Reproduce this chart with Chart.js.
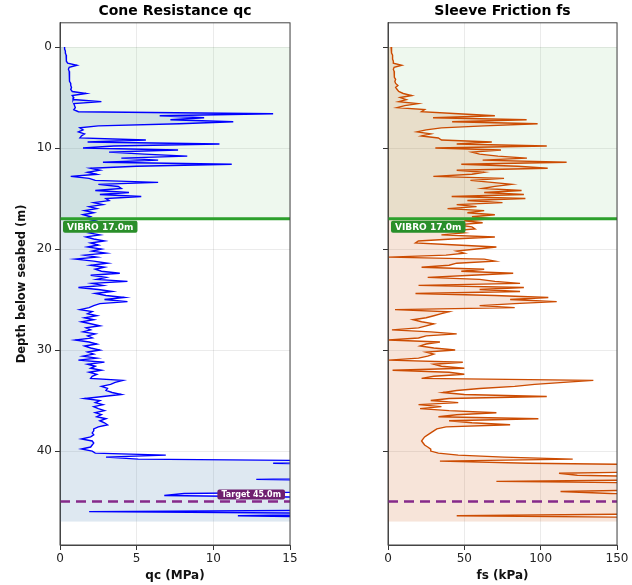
<!DOCTYPE html>
<html>
<head>
<meta charset="utf-8">
<script src="https://cdn.jsdelivr.net/npm/chart.js@4.4.1/dist/chart.umd.min.js"></script>
<style>
  body { margin: 0; background: #fff; }
  #wrap { position: relative; width: 632px; height: 585px; }
  #qcChart { position: absolute; left: 0; top: 0; }
  #fsChart { position: absolute; left: 320px; top: 0; }
</style>
</head>
<body>
<div id="wrap">
  <canvas id="qcChart" width="300" height="585"></canvas>
  <canvas id="fsChart" width="312" height="585"></canvas>
</div>
<script>
// CPT log sampled every 0.2 m from 0.0 to 47.0 m
const depthStep = 0.2;

// cone resistance qc (MPa)
const qcValues = [
  0.3, 0.3, 0.35, 0.35, 0.4, 0.4, 0.4, 0.45, 0.5, 1.1,
  0.6, 0.55, 0.6, 0.6, 0.6, 0.65, 0.6, 0.65, 0.7, 0.7,
  0.75, 0.7, 0.8, 1.7, 0.8, 0.9, 0.85, 2.7, 0.9, 0.95,
  1.0, 0.9, 1.2, 13.9, 6.5, 9.4, 7.2, 11.3, 7.8, 2.5,
  1.3, 1.5, 1.2, 1.6, 1.4, 1.3, 5.6, 1.8, 10.4, 3.5,
  1.5, 7.7, 3.2, 5.5, 8.3, 4.0, 6.4, 2.8, 11.2, 5.0,
  2.0, 2.6, 1.8, 2.4, 0.7, 1.9, 2.3, 6.4, 2.5, 3.8,
  4.0, 2.3, 4.5, 2.6, 5.3, 3.0, 3.2, 2.2, 2.8, 1.9,
  2.4, 1.6, 2.2, 1.5, 2.0, 1.7, 2.3, 1.8, 2.1, 2.6,
  1.8, 2.4, 1.9, 2.6, 1.7, 2.2, 2.9, 2.0, 2.5, 1.8,
  2.7, 2.1, 3.0, 1.6, 2.4, 1.0, 2.2, 3.1, 2.0, 2.9,
  2.3, 2.7, 3.9, 2.0, 3.0, 2.4, 4.4, 2.1, 2.8, 1.2,
  2.5, 3.4, 2.3, 3.0, 4.2, 2.9, 4.4, 2.6, 2.2, 1.9,
  1.3, 2.1, 1.8, 2.4, 1.6, 2.2, 1.4, 2.0, 2.6, 1.7,
  2.0, 1.5, 2.3, 1.8, 2.1, 1.0, 1.9, 2.4, 1.6, 2.0,
  2.6, 1.8, 2.2, 1.5, 2.4, 1.2, 2.9, 1.8, 2.3, 2.0,
  2.7, 1.9, 2.4, 2.1, 2.0, 4.1, 3.6, 3.3, 2.7, 3.1,
  3.0, 3.4, 4.0, 2.8, 1.6, 2.6, 2.3, 2.8, 2.2, 2.5,
  2.9, 2.3, 2.7, 2.4, 3.0, 2.6, 2.9, 3.1, 2.5, 2.2,
  2.2, 2.1, 2.2, 2.0, 1.4, 2.1, 2.2, 2.1, 2.0, 1.4,
  2.1, 2.3, 6.9, 3.0, 5.1, 22, 13.9, 22, 24, 21,
  23, 20, 22, 25, 12.8, 21, 24, 22, 23, 20,
  21, 8.1, 6.8, 18, 22, 23, 20, 24, 21, 25,
  1.9, 22, 11.6, 21, 23, 22
];

// sleeve friction fs (kPa)
const fsValues = [
  2, 2, 2.5, 2.5, 3, 3, 3, 3.5, 3.5, 9,
  4, 3.5, 4, 4.5, 4, 4, 5, 4.5, 5, 6.5,
  5, 6, 7, 10, 15.5, 8, 12, 7, 19.6, 11,
  6, 24, 22, 46, 70, 29.5, 90.8, 42, 98, 63,
  35, 25, 19, 28, 22, 33, 35, 68, 45, 104,
  31, 74, 55, 60, 72, 91, 62, 117, 48, 85,
  104.6, 45, 63, 55, 29.7, 76, 54, 68, 81, 70,
  62, 87.5, 63, 89, 41.7, 90, 52, 75, 45, 58,
  39, 63, 52, 70, 55, 68, 50, 62, 45, 55,
  57, 41.6, 50, 35, 70, 42, 19.9, 18, 45, 71,
  58, 45, 50, 38, 0.5, 63, 70, 45, 40, 22,
  63, 48, 82, 55, 26, 60, 70, 86.5, 20, 89,
  60, 86.5, 18, 70, 105, 80, 110.5, 83, 60, 83,
  4.6, 40, 35, 30, 25, 16.4, 22, 30, 25, 20,
  2.6, 28, 45, 25, 20, 0.4, 34, 25, 21, 30,
  44, 25, 30, 26, 20, 0.4, 49, 30, 35, 50,
  3, 40, 50, 30, 22, 134.5, 115, 96, 83, 60,
  45, 36, 50, 104, 40, 28, 46, 20, 35, 21,
  40, 71, 45, 33, 98.5, 40, 55, 80, 38, 32,
  30, 28, 26, 24, 23, 22, 23, 24, 26, 28,
  28, 33, 46, 76, 121, 34, 92, 200, 210, 190,
  200, 112, 124, 200, 205, 71, 195, 210, 200, 190,
  113, 146, 200, 205, 210, 195, 200, 210, 205, 200,
  200, 195, 45, 200, 210, 205
];

const depth = qcValues.map((v, i) => Math.round(i * depthStep * 10) / 10);

const depthTicks = [0, 10, 20, 30, 40];
const qcTicks = [0, 5, 10, 15];
const fsTicks = [0, 50, 100, 150];

const vibroDepth = 17.0;
const targetDepth = 45.0;

Chart.defaults.font.family = "'DejaVu Sans', sans-serif";
Chart.defaults.color = '#222';

function tag(ctx, text, x, y, h, bg, font, alignRight) {
  ctx.font = font;
  const w = ctx.measureText(text).width + 8;
  const left = alignRight ? x - w : x;
  ctx.fillStyle = bg;
  ctx.beginPath();
  if (ctx.roundRect) ctx.roundRect(left, y, w, h, 2);
  else ctx.rect(left, y, w, h);
  ctx.fill();
  ctx.fillStyle = '#fff';
  ctx.textAlign = 'left';
  ctx.textBaseline = 'middle';
  ctx.fillText(text, left + 4, y + h / 2 + 0.5);
}

// densification zone, vibro line, target line and frame
const markers = {
  id: 'markers',
  beforeDatasetsDraw(chart) {
    const { ctx, chartArea: a, scales: { y } } = chart;
    const y0 = y.getPixelForValue(0);
    const y1 = y.getPixelForValue(vibroDepth);
    ctx.save();
    ctx.fillStyle = 'rgba(44,160,44,0.08)';
    ctx.fillRect(a.left, y0, a.right - a.left, y1 - y0);
    ctx.restore();
  },
  afterDatasetsDraw(chart, args, opts) {
    const { ctx, chartArea: a, scales: { y } } = chart;
    ctx.save();
    const yv = y.getPixelForValue(vibroDepth);
    ctx.strokeStyle = '#2ca02c';
    ctx.lineWidth = 3;
    ctx.beginPath();
    ctx.moveTo(a.left, yv);
    ctx.lineTo(a.right, yv);
    ctx.stroke();
    tag(ctx, 'VIBRO ' + vibroDepth.toFixed(1) + 'm', a.left + 3, yv + 2, 12,
        '#2a8f2a', 'bold 9px "DejaVu Sans"', false);

    const yt = y.getPixelForValue(targetDepth);
    ctx.strokeStyle = '#862a8a';
    ctx.lineWidth = 2.5;
    ctx.setLineDash([10, 6]);
    ctx.beginPath();
    ctx.moveTo(a.left, yt);
    ctx.lineTo(a.right, yt);
    ctx.stroke();
    ctx.setLineDash([]);
    if (opts.showTarget) {
      tag(ctx, 'Target ' + targetDepth.toFixed(1) + 'm', a.right - 5, yt - 12, 10,
          '#6f1f6f', 'bold 8px "DejaVu Sans"', true);
    }

    ctx.strokeStyle = '#444';
    ctx.lineWidth = 1;
    ctx.strokeRect(a.left, a.top, a.right - a.left, a.bottom - a.top);
    ctx.restore();
  }
};

function makeChart(id, values, color, fillColor, xMax, xTicks, title, xTitle, yOpts, padRight, showTarget) {
  return new Chart(document.getElementById(id), {
    type: 'line',
    data: {
      datasets: [{
        data: values.map((v, i) => ({ x: v, y: depth[i] })),
        borderColor: color,
        borderWidth: 1.4,
        backgroundColor: fillColor,
        fill: 'origin',
        pointRadius: 0,
        tension: 0
      }]
    },
    options: {
      responsive: false,
      animation: false,
      indexAxis: 'y',
      layout: { padding: { right: padRight } },
      plugins: {
        legend: { display: false },
        tooltip: { enabled: false },
        title: {
          display: true,
          text: title,
          fullSize: false,
          color: '#000',
          font: { size: 14, weight: 'bold' },
          padding: { top: 3, bottom: 3 }
        },
        markers: { showTarget: showTarget }
      },
      scales: {
        x: {
          type: 'linear',
          min: 0,
          max: xMax,
          afterBuildTicks: s => { s.ticks = xTicks.map(v => ({ value: v })); },
          afterFit: s => { s.height = 40; },
          ticks: { font: { size: 12 }, padding: 2, color: '#222' },
          grid: { color: 'rgba(0,0,0,0.08)', tickColor: '#333', tickLength: 5 },
          border: { color: '#444' },
          title: {
            display: true,
            text: xTitle,
            color: '#111',
            font: { size: 12, weight: 'bold' },
            padding: { top: 0, bottom: 2 }
          }
        },
        y: Object.assign({
          type: 'linear',
          reverse: true,
          min: -2.4,
          max: 49.3,
          afterBuildTicks: s => { s.ticks = depthTicks.map(v => ({ value: v })); },
          grid: { color: 'rgba(0,0,0,0.08)', tickColor: '#333', tickLength: 5 },
          border: { color: '#444' }
        }, yOpts)
      }
    },
    plugins: [markers]
  });
}

makeChart('qcChart', qcValues, '#0000ff', 'rgba(70,130,180,0.18)', 15, qcTicks,
  'Cone Resistance qc', 'qc (MPa)', {
    afterFit: s => { s.width = 60; },
    ticks: { font: { size: 12 }, padding: 3, color: '#222' },
    title: {
      display: true,
      text: 'Depth below seabed (m)',
      color: '#111',
      font: { size: 11.5, weight: 'bold' },
      padding: { top: 15, bottom: 0 }
    }
  }, 10, true);

makeChart('fsChart', fsValues, '#cc4c02', 'rgba(204,76,2,0.15)', 150, fsTicks,
  'Sleeve Friction fs', 'fs (kPa)', {
    afterFit: s => { s.width = 68; },
    ticks: { font: { size: 12 }, color: 'transparent' }
  }, 15, false);
</script>
</body>
</html>
